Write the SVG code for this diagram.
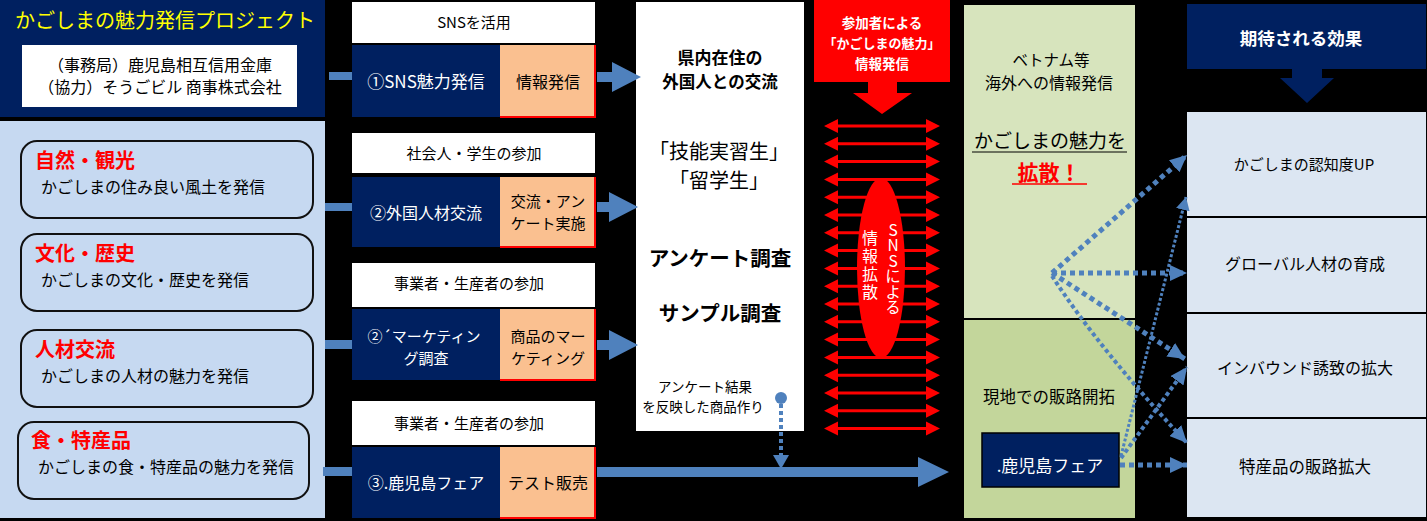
<svg xmlns="http://www.w3.org/2000/svg" width="1427" height="521" viewBox="0 0 1427 521">
<defs>
<style>
text{font-family:"Noto Sans CJK JP","Noto Sans",sans-serif;}
.navy{fill:#002060;}
.peach{fill:#fac090;}
.hdr{fill:#ffffff;}
.rb{fill:#c6d9f1;stroke:#111;stroke-width:2;}
.eff{fill:#dce6f2;}
.blue{fill:#4f81bd;}
.w{fill:#ffffff;}
.k{fill:#000000;}
.c{text-anchor:middle;}
.red{fill:#ff0000;}
.redline{fill:none;stroke:#ff0000;stroke-width:2;}
.dt{fill:none;stroke:#4f81bd;stroke-width:5;stroke-dasharray:5 4;}
.dm{fill:none;stroke:#4f81bd;stroke-width:4;stroke-dasharray:4 3;}
.ds{fill:none;stroke:#4f81bd;stroke-width:3;stroke-dasharray:3 2;}
.rl{stroke:#ff0000;stroke-width:3;}
</style>
<marker id="ah" markerUnits="userSpaceOnUse" markerWidth="18" markerHeight="16" refX="17" refY="8" orient="auto">
<path d="M0,0 L17,8 L0,16 z" fill="#4f81bd"/>
</marker>
<marker id="ahs" markerUnits="userSpaceOnUse" markerWidth="14" markerHeight="14" refX="13" refY="7" orient="auto">
<path d="M0,0 L13,7 L0,14 z" fill="#4f81bd"/>
</marker>
<g id="dbl">
<line class="rl" x1="834" y1="0" x2="930" y2="0"/>
<path d="M824,0 L838,-7 L838,7 z M940,0 L926,-7 L926,7 z" fill="#ff0000"/>
</g>
</defs>
<rect x="0" y="0" width="1427" height="521" fill="#000000"/>

<g id="project">
<rect class="navy" x="0" y="0" width="325" height="117"/>
<text x="15" y="28" font-size="20" fill="#ffff00">かごしまの魅力発信プロジェクト</text>
<rect x="22" y="45" width="275" height="62" fill="#ffffff"/>
<text class="c k" x="160" y="71" font-size="16">（事務局）鹿児島相互信用金庫</text>
<text class="c k" x="160" y="93" font-size="16">（協力）そうごビル 商事株式会社</text>
</g>

<g id="themes">
<rect x="0" y="121" width="325" height="397" fill="#c6d9f1"/>
</g>
<g id="theme1">
<rect class="rb" x="21" y="141" width="292" height="77" rx="16"/>
<text x="35" y="168" font-size="20" font-weight="bold" class="red">自然・観光</text>
<text x="41" y="193" font-size="16" class="k">かごしまの住み良い風土を発信</text>
</g>
<g id="theme2">
<rect class="rb" x="21" y="234" width="292" height="77" rx="16"/>
<text x="35" y="261" font-size="20" font-weight="bold" class="red">文化・歴史</text>
<text x="41" y="286" font-size="16" class="k">かごしまの文化・歴史を発信</text>
</g>
<g id="theme3">
<rect class="rb" x="21" y="330" width="292" height="77" rx="16"/>
<text x="35" y="357" font-size="20" font-weight="bold" class="red">人材交流</text>
<text x="41" y="382" font-size="16" class="k">かごしまの人材の魅力を発信</text>
</g>
<g id="theme4">
<rect class="rb" x="18" y="422" width="291" height="77" rx="16"/>
<text x="31" y="448" font-size="20" font-weight="bold" class="red">食・特産品</text>
<text x="38" y="473" font-size="16" class="k">かごしまの食・特産品の魅力を発信</text>
</g>

<g id="step1">
<rect class="hdr" x="352" y="2" width="243" height="41"/>
<text class="c k" x="474" y="28" font-size="15">SNSを活用</text>
<rect class="navy" x="352" y="45" width="148" height="72"/>
<text class="c w" x="426" y="88" font-size="17">①SNS魅力発信</text>
<rect class="peach" x="500" y="45" width="95" height="72"/>
<polyline class="redline" points="595,45 595,117 500,117"/>
<text class="c k" x="548" y="88" font-size="16">情報発信</text>
</g>
<g id="step2">
<rect class="hdr" x="352" y="133" width="243" height="40"/>
<text class="c k" x="474" y="159" font-size="15">社会人・学生の参加</text>
<rect class="navy" x="352" y="177" width="148" height="70"/>
<text class="c w" x="426" y="219" font-size="16">②外国人材交流</text>
<rect class="peach" x="500" y="177" width="95" height="70"/>
<polyline class="redline" points="595,177 595,247 500,247"/>
<text class="c k" x="548" y="207" font-size="15">交流・アン</text>
<text class="c k" x="548" y="229" font-size="15">ケート実施</text>
</g>
<g id="step2b">
<rect class="hdr" x="352" y="263" width="243" height="44"/>
<text class="c k" x="469" y="289" font-size="15">事業者・生産者の参加</text>
<rect class="navy" x="352" y="309" width="148" height="71"/>
<text class="c w" x="424" y="342" font-size="15">②´マーケティン</text>
<text class="c w" x="426" y="364" font-size="15">グ調査</text>
<rect class="peach" x="500" y="309" width="95" height="71"/>
<polyline class="redline" points="595,309 595,380 500,380"/>
<text class="c k" x="548" y="342" font-size="15">商品のマー</text>
<text class="c k" x="548" y="364" font-size="15">ケティング</text>
</g>
<g id="step3">
<rect class="hdr" x="352" y="401" width="243" height="44"/>
<text class="c k" x="469" y="429" font-size="15">事業者・生産者の参加</text>
<rect class="navy" x="352" y="447" width="148" height="71"/>
<text class="c w" x="426" y="489" font-size="16">③.鹿児島フェア</text>
<rect class="peach" x="500" y="447" width="95" height="71"/>
<polyline class="redline" points="595,447 595,518 500,518"/>
<text class="c k" x="548" y="489" font-size="16">テスト販売</text>
</g>

<g id="exchange">
<rect x="636" y="2" width="168" height="429" fill="#ffffff"/>
<text class="c k" x="720" y="64" font-size="17" font-weight="bold">県内在住の</text>
<text class="c k" x="720" y="88" font-size="16.5" font-weight="bold">外国人との交流</text>
<text class="c k" x="719" y="159" font-size="20">「技能実習生」</text>
<text class="c k" x="719" y="188" font-size="20">「留学生」</text>
<text class="c k" x="720" y="266" font-size="20.5" font-weight="bold">アンケート調査</text>
<text class="c k" x="720" y="321" font-size="20.5" font-weight="bold">サンプル調査</text>
<text class="c k" x="705" y="392" font-size="13.5">アンケート結果</text>
<text class="c k" x="703" y="412" font-size="13.5">を反映した商品作り</text>
</g>

<g id="participants">
<rect x="814" y="0" width="136" height="82" fill="#ff0000"/>
<text class="c w" x="882" y="27.5" font-size="13.5" font-weight="bold">参加者による</text>
<text class="c w" x="882" y="48" font-size="13" font-weight="bold">「かごしまの魅力」</text>
<text class="c w" x="882" y="68.5" font-size="13.5" font-weight="bold">情報発信</text>
<polygon points="868,82 897,82 897,93 912,93 882,114 853,93 868,93" fill="#ff0000"/>
</g>

<g id="sns-spread">
<use href="#dbl" y="126"/>
<use href="#dbl" y="143.8"/>
<use href="#dbl" y="161.6"/>
<use href="#dbl" y="179.4"/>
<use href="#dbl" y="197.2"/>
<use href="#dbl" y="215"/>
<use href="#dbl" y="232.8"/>
<use href="#dbl" y="250.6"/>
<use href="#dbl" y="268.4"/>
<use href="#dbl" y="286.2"/>
<use href="#dbl" y="304"/>
<use href="#dbl" y="321.8"/>
<use href="#dbl" y="339.6"/>
<use href="#dbl" y="357.4"/>
<use href="#dbl" y="375.2"/>
<use href="#dbl" y="393"/>
<use href="#dbl" y="410.8"/>
<use href="#dbl" y="428.6"/>
<ellipse cx="881" cy="268" rx="24" ry="90" fill="#ff0000"/>
<text x="893" y="222" font-size="15.5" fill="#ffffff" style="writing-mode:vertical-rl;text-orientation:upright;">SNSによる</text>
<text x="870" y="230" font-size="16" fill="#ffffff" letter-spacing="2" style="writing-mode:vertical-rl;text-orientation:upright;">情報拡散</text>
</g>

<g id="overseas">
<rect x="964" y="5" width="171" height="314" fill="#d7e4bd"/>
<text class="c k" x="1051" y="66" font-size="15.5">ベトナム等</text>
<text class="c k" x="1049" y="89" font-size="16">海外への情報発信</text>
<text class="c k" x="1050" y="148" font-size="19">かごしまの魅力を</text>
<line x1="972" y1="152" x2="1127" y2="152" stroke="#000" stroke-width="1"/>
<text class="c red" x="1049" y="180" font-size="21" font-weight="bold">拡散！</text>
<line x1="1012" y1="184" x2="1087" y2="184" stroke="#ff0000" stroke-width="1.5"/>
</g>
<g id="local">
<rect x="964" y="319" width="171" height="199" fill="#c3d69b"/>
<line x1="964" y1="319" x2="1135" y2="319" stroke="#000" stroke-width="2"/>
<text class="c k" x="1049" y="403" font-size="16.5">現地での販路開拓</text>
</g>
<g id="fair">
<rect class="navy" x="982" y="433" width="137" height="54" stroke="#000" stroke-width="1.5"/>
<text class="c w" x="1050" y="472" font-size="17">.鹿児島フェア</text>
</g>

<g id="effects">
<rect class="navy" x="1187" y="4" width="239" height="65"/>
<text class="c w" x="1301" y="45" font-size="17.5" font-weight="bold">期待される効果</text>
<polygon points="1292,69 1322,69 1322,78 1334,78 1307,103 1280,78 1292,78" fill="#002060"/>
</g>
<g id="effect1">
<rect class="eff" x="1187" y="112" width="239" height="104"/>
<text class="c k" x="1304" y="170" font-size="15">かごしまの認知度UP</text>
</g>
<g id="effect2">
<rect class="eff" x="1187" y="218" width="239" height="94"/>
<text class="c k" x="1305" y="270" font-size="16">グローバル人材の育成</text>
</g>
<g id="effect3">
<rect class="eff" x="1187" y="314" width="239" height="103"/>
<text class="c k" x="1305" y="374" font-size="16">インバウンド誘致の拡大</text>
</g>
<g id="effect4">
<rect class="eff" x="1187" y="419" width="239" height="98"/>
<text class="c k" x="1305" y="473" font-size="16.5">特産品の販路拡大</text>
</g>

<g id="connectors">
<rect class="blue" x="329" y="72" width="23" height="8"/>
<rect class="blue" x="325" y="203" width="27" height="8"/>
<rect class="blue" x="325" y="340" width="27" height="9"/>
<rect class="blue" x="323" y="467" width="29" height="9"/>
<polygon class="blue" points="597,72 612,72 612,62 641,77 612,92 612,82 597,82"/>
<polygon class="blue" points="597,202 609,202 609,192 638,207 609,222 609,212 597,212"/>
<polygon class="blue" points="597,340 609,340 609,330 638,345 609,360 609,350 597,350"/>
<circle cx="781" cy="398" r="6" fill="#4f81bd"/>
<line class="dm" x1="781" y1="404" x2="781" y2="455"/>
<polygon class="blue" points="773,455 789,455 781,469"/>
<polygon class="blue" points="597,467 918,467 918,457 949,472 918,487 918,477 597,477"/>
<path class="dt" d="M1052,273 L1187,155" marker-end="url(#ah)"/>
<path class="dt" d="M1052,273 L1187,273" marker-end="url(#ah)"/>
<path class="dt" d="M1052,273 L1185,359" marker-end="url(#ah)"/>
<path class="dm" d="M1052,276 Q1100,350 1187,443" marker-end="url(#ah)"/>
<path class="dt" d="M1120,465 L1187,465" marker-end="url(#ah)"/>
<path class="dm" d="M1121,458 L1187,367" marker-end="url(#ah)"/>
<path class="ds" d="M1121,456 L1186,197" marker-end="url(#ahs)"/>
</g>
</svg>
